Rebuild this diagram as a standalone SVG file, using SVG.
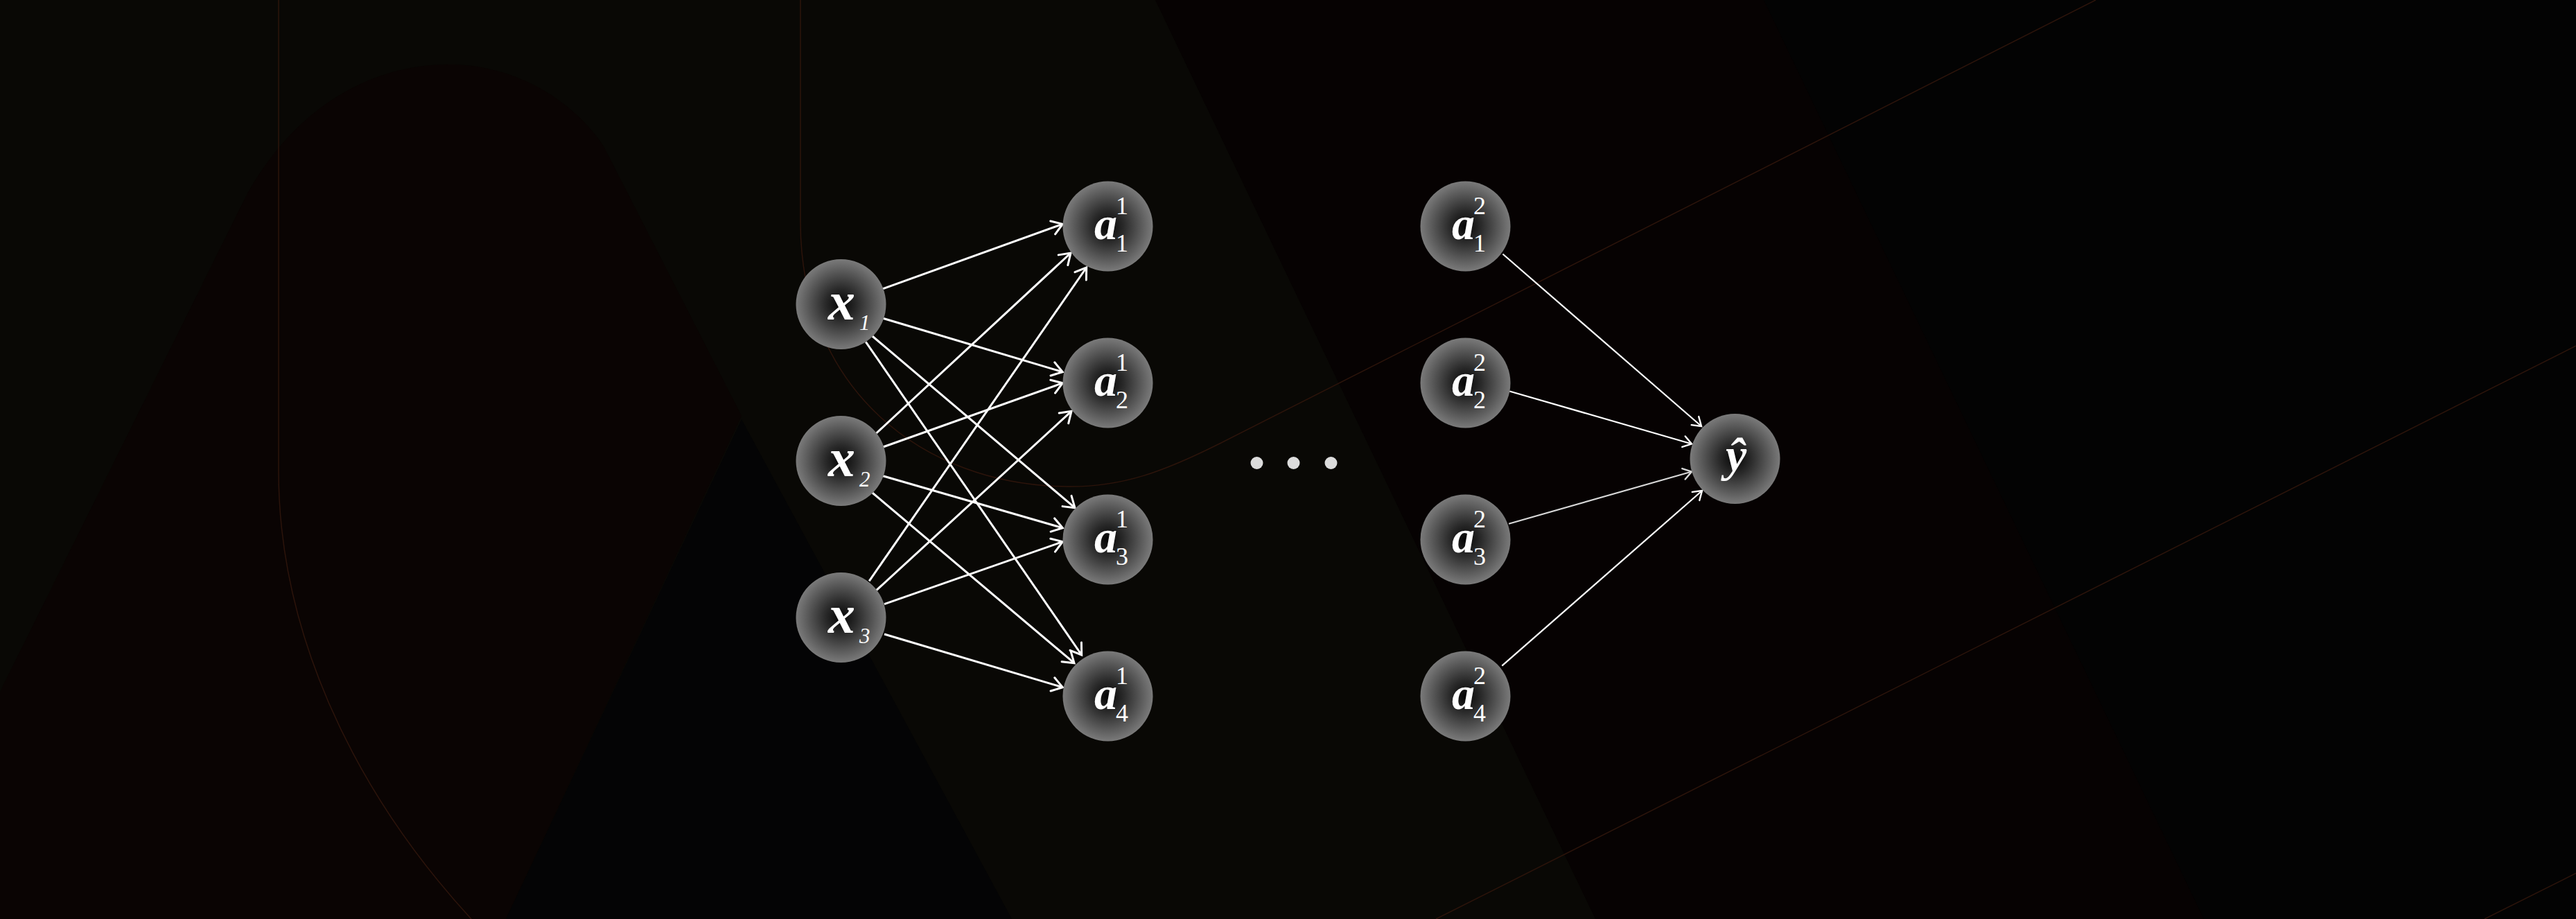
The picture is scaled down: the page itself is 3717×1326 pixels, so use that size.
<svg xmlns="http://www.w3.org/2000/svg" width="3717" height="1326" viewBox="0 0 3717 1326">
  <defs>
    <radialGradient id="nodeGrad" cx="50%" cy="50%" r="50%">
      <stop offset="0%" stop-color="#050505"/>
      <stop offset="35%" stop-color="#2a2a2a"/>
      <stop offset="100%" stop-color="#7a7a7a"/>
    </radialGradient>
    <marker id="arrL" markerUnits="userSpaceOnUse" viewBox="-20 -14 24 28" refX="0" refY="0" markerWidth="24" markerHeight="28" orient="auto">
      <path d="M-15,-10 L0,0 L-15,10" fill="none" stroke="#ffffff" stroke-width="3" stroke-linecap="round" stroke-linejoin="miter"/>
    </marker>
    <marker id="arrR" markerUnits="userSpaceOnUse" viewBox="-20 -14 24 28" refX="0" refY="0" markerWidth="24" markerHeight="28" orient="auto">
      <path d="M-12,-8 L0,0 L-12,8" fill="none" stroke="context-stroke" stroke-width="2.4" stroke-linecap="round"/>
    </marker>
    <style>
      .node circle { fill: url(#nodeGrad); }
      .lab { fill: #ffffff; font-family: "Liberation Serif", "DejaVu Serif", serif; }
      .xv { font-size: 78px; font-style: italic; font-weight: bold; }
      .xs { font-size: 31px; font-style: italic; }
      .av { font-size: 66px; font-style: italic; font-weight: bold; }
      .as { font-size: 36px; }
      .yh { font-size: 68px; font-style: italic; font-weight: bold; }
      .cl { stroke: #ffffff; stroke-width: 3; fill: none; marker-end: url(#arrL); }
      .cr { stroke: #ffffff; stroke-width: 2.2; fill: none; marker-end: url(#arrR); }
      .thin { fill: none; stroke: #2c140b; stroke-width: 1.5; }
    </style>
  </defs>

  <g id="background">
    <rect x="0" y="0" width="3717" height="1326" fill="#090805"/>
    <polygon points="1667,0 3717,0 3717,1326 2302,1326" fill="#060202"/>
    <polygon points="2545,0 3717,0 3717,1326 3180,1326" fill="#030303"/>
    <path d="M0,998 L357,279 C430,150 540,93 647,93 C750,93 830,150 871,211 L1070,600 L730,1326 L0,1326 Z" fill="#0a0403"/>
    <polygon points="1070,605 1460,1326 730,1326" fill="#040405"/>
    <path class="thin" d="M402,0 L402,680 C402,900 500,1130 680,1326"/>
    <path class="thin" d="M1155,0 L1155,320 C1155,560 1330,700 1540,702 C1620,703 1680,680 1760,640 L3024,0"/>
    <path class="thin" d="M2072,1326 L3717,499"/>
    <path class="thin" d="M3585,1326 L3717,1260"/>
  </g>

  <g id="connectors">
    <line class="cl" x1="1274.1" y1="416.7" x2="1533.3" y2="323.3"/>
    <line class="cl" x1="1274.1" y1="459.3" x2="1533.3" y2="536.7"/>
    <line class="cl" x1="1258.8" y1="485" x2="1551" y2="732.7"/>
    <line class="cl" x1="1249.3" y1="493.3" x2="1560.7" y2="945"/>
    <line class="cl" x1="1264.6" y1="625" x2="1545" y2="365"/>
    <line class="cl" x1="1274.1" y1="645" x2="1533.3" y2="552.7"/>
    <line class="cl" x1="1274.1" y1="686.7" x2="1533.3" y2="761.7"/>
    <line class="cl" x1="1258.8" y1="711" x2="1550" y2="956.7"/>
    <line class="cl" x1="1254.2" y1="838.3" x2="1567.7" y2="386"/>
    <line class="cl" x1="1264.6" y1="851.7" x2="1546" y2="593.3"/>
    <line class="cl" x1="1276" y1="871.7" x2="1533.3" y2="781.7"/>
    <line class="cl" x1="1276" y1="915" x2="1533.3" y2="991.7"/>
    <line class="cr" x1="2168.4" y1="366.5" x2="2455" y2="615"/>
    <line class="cr" x1="2178.2" y1="564.5" x2="2441" y2="640.5"/>
    <line class="cr" x1="2177.1" y1="755.7" x2="2441" y2="680.5" style="stroke:#d8d8d8"/>
    <line class="cr" x1="2167.3" y1="960.6" x2="2456" y2="708"/>
  </g>

  <g id="x1" class="node">
    <circle cx="1213.5" cy="439" r="65"/>
    <text class="lab xv" x="1195" y="461">x</text>
    <text class="lab xs" x="1240" y="476">1</text>
  </g>
  <g id="x2" class="node">
    <circle cx="1213.5" cy="665" r="65"/>
    <text class="lab xv" x="1195" y="687">x</text>
    <text class="lab xs" x="1240" y="702">2</text>
  </g>
  <g id="x3" class="node">
    <circle cx="1213.5" cy="891" r="65"/>
    <text class="lab xv" x="1195" y="913">x</text>
    <text class="lab xs" x="1240" y="928">3</text>
  </g>

  <g id="a1_1" class="node">
    <circle cx="1598.5" cy="326.5" r="65"/>
    <text class="lab av" x="1579" y="345">a</text>
    <text class="lab as" x="1610" y="309">1</text>
    <text class="lab as" x="1610" y="363">1</text>
  </g>
  <g id="a1_2" class="node">
    <circle cx="1598.5" cy="552.5" r="65"/>
    <text class="lab av" x="1579" y="571">a</text>
    <text class="lab as" x="1610" y="535">1</text>
    <text class="lab as" x="1610" y="589">2</text>
  </g>
  <g id="a1_3" class="node">
    <circle cx="1598.5" cy="778.5" r="65"/>
    <text class="lab av" x="1579" y="797">a</text>
    <text class="lab as" x="1610" y="761">1</text>
    <text class="lab as" x="1610" y="815">3</text>
  </g>
  <g id="a1_4" class="node">
    <circle cx="1598.5" cy="1004.5" r="65"/>
    <text class="lab av" x="1579" y="1023">a</text>
    <text class="lab as" x="1610" y="987">1</text>
    <text class="lab as" x="1610" y="1041">4</text>
  </g>

  <g id="ellipsis">
    <circle cx="1813.5" cy="668" r="9" fill="#dcdcdc"/>
    <circle cx="1866.5" cy="668" r="9" fill="#dcdcdc"/>
    <circle cx="1920.5" cy="668" r="9" fill="#dcdcdc"/>
  </g>

  <g id="a2_1" class="node">
    <circle cx="2114.5" cy="326.5" r="65"/>
    <text class="lab av" x="2095" y="345">a</text>
    <text class="lab as" x="2126" y="309">2</text>
    <text class="lab as" x="2126" y="363">1</text>
  </g>
  <g id="a2_2" class="node">
    <circle cx="2114.5" cy="552.5" r="65"/>
    <text class="lab av" x="2095" y="571">a</text>
    <text class="lab as" x="2126" y="535">2</text>
    <text class="lab as" x="2126" y="589">2</text>
  </g>
  <g id="a2_3" class="node">
    <circle cx="2114.5" cy="778.5" r="65"/>
    <text class="lab av" x="2095" y="797">a</text>
    <text class="lab as" x="2126" y="761">2</text>
    <text class="lab as" x="2126" y="815">3</text>
  </g>
  <g id="a2_4" class="node">
    <circle cx="2114.5" cy="1004.5" r="65"/>
    <text class="lab av" x="2095" y="1023">a</text>
    <text class="lab as" x="2126" y="987">2</text>
    <text class="lab as" x="2126" y="1041">4</text>
  </g>

  <g id="yhat" class="node">
    <circle cx="2503.5" cy="662" r="65"/>
    <text class="lab yh" x="2505" y="680" text-anchor="middle">ŷ</text>
  </g>
</svg>
